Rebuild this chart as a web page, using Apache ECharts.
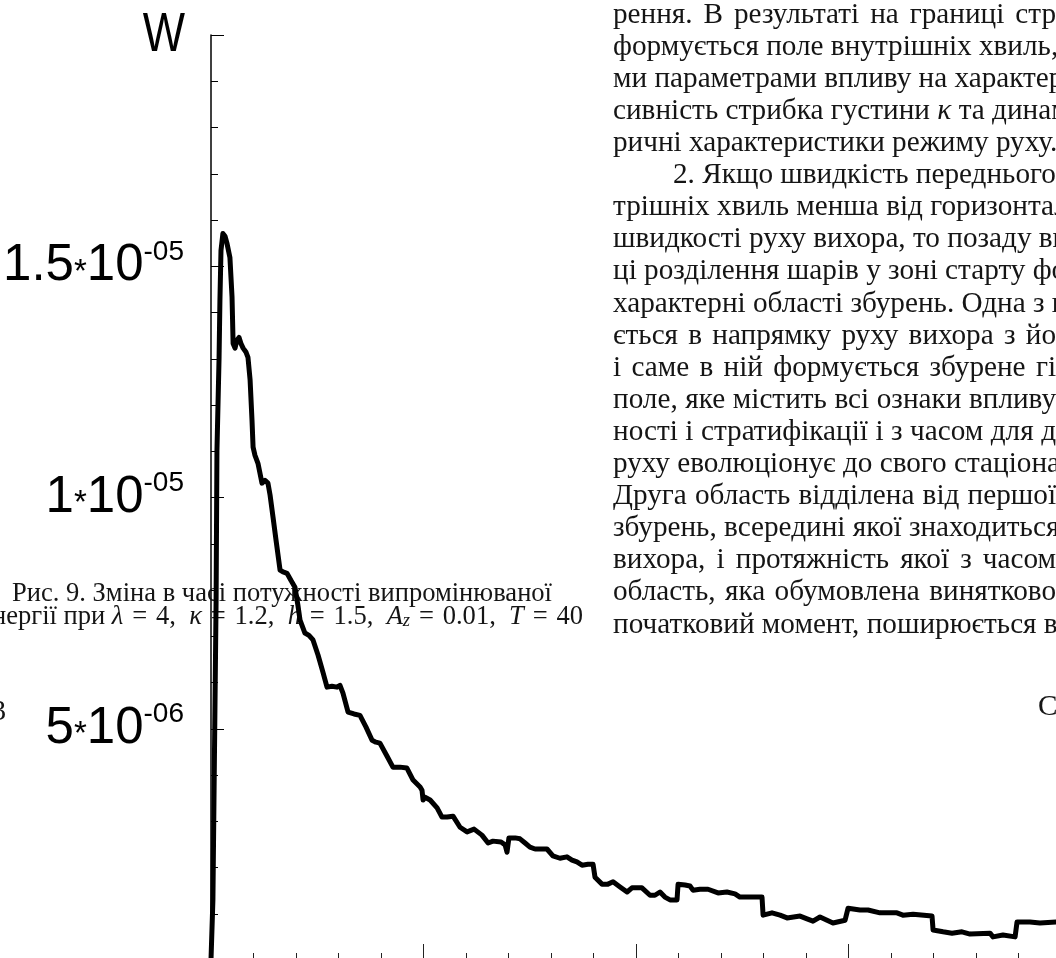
<!DOCTYPE html>
<html>
<head>
<meta charset="utf-8">
<script src="https://cdn.jsdelivr.net/npm/echarts@6/dist/echarts.min.js"></script>
<style>
  html, body { margin: 0; padding: 0; overflow: hidden; background: #fff; width: 1056px; height: 958px; }
  #chart { width: 1110px; height: 1000px; }
</style>
</head>
<body>
<div id="chart"></div>
<script>
// Radiated power W(t), in units of 1e-6, against time t
const timeValues = [
  0, 0.05, 0.09, 0.14, 0.19, 0.24, 0.28, 0.38, 0.42, 0.47,
  0.56, 0.66, 0.75, 0.89, 0.99, 1.04, 1.13, 1.22, 1.32, 1.41,
  1.51, 1.65, 1.74, 1.84, 1.93, 1.98, 2.07, 2.21, 2.40, 2.54,
  2.68, 2.78, 2.92, 3.06, 3.25, 3.39, 3.58, 3.76, 3.95, 4.09,
  4.19, 4.42, 4.61, 4.80, 5.04, 5.27, 5.46, 5.69, 5.93, 6.07,
  6.21, 6.45, 6.73, 7.01, 7.29, 7.58, 7.76, 7.95, 8.28, 8.56,
  8.89, 9.22, 9.51, 9.84, 9.93, 9.98, 10.07, 10.31, 10.64, 10.87,
  11.11, 11.39, 11.72, 12.05, 12.38, 12.75, 13.04, 13.27, 13.65, 13.84,
  13.93, 14.02, 14.31, 14.54, 14.78, 15.01, 15.25, 15.53, 15.81, 16.09,
  16.42, 16.75, 16.99, 17.22, 17.46, 17.74, 17.98, 18.07, 18.40, 18.68,
  18.92, 19.25, 19.58, 19.81, 20.28, 20.66, 20.89, 21.13, 21.36, 21.60,
  21.93, 21.98, 22.31, 22.54, 22.68, 23.01, 23.39, 23.86, 24.28, 24.66,
  24.89, 25.36, 25.93, 25.98, 26.40, 26.78, 27.11, 27.72, 28.05, 28.33,
  28.66, 28.99, 29.27, 29.84, 29.98, 30.54, 30.92, 31.48, 32.28, 32.56,
  33.04, 33.93, 33.98, 34.45, 34.87, 35.34, 35.72, 36.66, 36.80, 37.27,
  37.84, 37.93, 38.54, 39.01, 39.76, 40
];
const powerValues = [
  0, 0.04, 1.30, 3.46, 5.62, 7.78, 11.02, 13.03, 14.26, 15.34,
  15.71, 15.65, 15.50, 15.19, 14.33, 13.33, 13.23, 13.40, 13.46, 13.33,
  13.23, 13.14, 13.03, 12.54, 11.67, 11.09, 10.91, 10.74, 10.31, 10.37,
  10.31, 10.05, 9.57, 9.08, 8.43, 8.39, 8.36, 8.21, 8.06, 7.67,
  7.35, 7.07, 7.02, 6.92, 6.59, 6.22, 5.90, 5.92, 5.90, 5.94,
  5.77, 5.36, 5.32, 5.29, 5.04, 4.75, 4.71, 4.69, 4.41, 4.17,
  4.17, 4.15, 3.89, 3.74, 3.67, 3.46, 3.52, 3.46, 3.29, 3.09,
  3.09, 3.11, 2.87, 2.77, 2.83, 2.70, 2.53, 2.57, 2.55, 2.49,
  2.33, 2.64, 2.64, 2.62, 2.53, 2.44, 2.40, 2.40, 2.40, 2.25,
  2.20, 2.23, 2.16, 2.12, 2.05, 2.07, 2.07, 1.79, 1.64, 1.64,
  1.69, 1.58, 1.47, 1.56, 1.56, 1.40, 1.40, 1.47, 1.36, 1.30,
  1.30, 1.64, 1.62, 1.60, 1.51, 1.53, 1.53, 1.45, 1.47, 1.43,
  1.36, 1.36, 1.36, 0.97, 1.02, 0.97, 0.91, 0.95, 0.89, 0.84,
  0.93, 0.86, 0.80, 0.86, 1.12, 1.08, 1.08, 1.02, 1.02, 0.97,
  0.99, 0.95, 0.65, 0.61, 0.58, 0.61, 0.56, 0.58, 0.50, 0.54,
  0.50, 0.82, 0.82, 0.80, 0.82, 0.82
];

// Labelled ticks of the W axis (axis values are in units of 1e-6)
const yTickValues   = [5, 10, 15];
const yTickMantissa = ['5', '1', '1.5'];
const yTickExponent = ['-06', '-05', '-05'];

// Surrounding page text
const captionLine1 = 'Рис. 9. Зміна в часі потужності випромінюваної';
const captionLine2Parts = [
  ['n', 'енергії при '], ['i', 'λ'], ['n', '\u2004=\u20044,  '], ['i', 'κ'], ['n', '\u2004=\u20041.2,  '],
  ['i', 'h'], ['n', '\u2004=\u20041.5,  '], ['i', 'A'], ['sub', 'z'], ['n', '\u2004=\u20040.01,  '],
  ['i', 'T'], ['n', '\u2004=\u200440']
];
const bodyLines = [
  'рення. В результаті на границі стр',
  'формується поле внутрішніх хвиль,',
  'ми параметрами впливу на характер',
  'сивність стрибка густини κ та динам',
  'ричні характеристики режиму руху.',
  '2. Якщо швидкість переднього фро',
  'трішніх хвиль менша від горизонтал',
  'швидкості руху вихора, то позаду вих',
  'ці розділення шарів у зоні старту фо',
  'характерні області збурень. Одна з н',
  'ється в напрямку руху вихора з йо',
  'і саме в ній формується збурене гі',
  'поле, яке містить всі ознаки впливу',
  'ності і стратифікації і з часом для д',
  'руху еволюціонує до свого стаціонар',
  'Друга область відділена від першої',
  'збурень, всередині якої знаходиться',
  'вихора, і протяжність якої з часом',
  'область, яка обумовлена винятково',
  'початковий момент, поширюється в'
];

const SERIF = '"Liberation Serif", "DejaVu Serif", serif';
const SANS = '"Liberation Sans", Arial, sans-serif';
const INK = '#151515';

// font size that makes a string span a given width
const measureCtx = document.createElement('canvas').getContext('2d');
function fitSize(text, family, width) {
  measureCtx.font = '100px ' + family;
  return 100 * width / measureCtx.measureText(text).width;
}
const captionSize = fitSize(captionLine1, SERIF, 540);
const bodySize = fitSize('и параметрами впливу на характер', SERIF, 432);
const bodyFont = bodySize.toFixed(2) + 'px ' + SERIF;
const bodyItalic = 'italic ' + bodyFont;

const seriesData = timeValues.map((t, i) => [t, powerValues[i]]);

const graphics = [];
// axis name
graphics.push({
  type: 'text', x: 185, y: 36, scaleX: 0.8, z: 10,
  style: { text: 'W', font: '56px ' + SANS, fill: '#000', textAlign: 'right', textVerticalAlign: 'middle' }
});

// justified body column: words spread between the column edges,
// lines that are too long keep normal spacing and run past the edge
const bodyLeft = 613, bodyRight = 1056, bodyTop = 15, bodyStep = 32.1, parIndent = 60;
bodyLines.forEach((line, k) => {
  const left = bodyLeft + (line.startsWith('2. ') ? parIndent : 0);
  const y = bodyTop + k * bodyStep;
  const words = line.split(' ');
  const fonts = words.map(w => (w === 'κ' ? bodyItalic : bodyFont));
  const widths = words.map((w, i) => { measureCtx.font = fonts[i]; return measureCtx.measureText(w).width; });
  measureCtx.font = bodyFont;
  const natural = measureCtx.measureText(' ').width;
  const used = widths.reduce((a, b) => a + b, 0);
  const gap = Math.max(natural, (bodyRight - left - used) / (words.length - 1));
  let x = left;
  words.forEach((w, i) => {
    graphics.push({
      type: 'text', x: x, y: y, z: 1,
      style: { text: w, font: fonts[i], fill: INK, textAlign: 'left', textVerticalAlign: 'middle' }
    });
    x += widths[i] + gap;
  });
});

// figure caption
graphics.push({
  type: 'text', x: 12, y: 594, z: 1,
  style: { text: captionLine1, font: captionSize.toFixed(2) + 'px ' + SERIF, fill: INK, textAlign: 'left', textVerticalAlign: 'middle' }
});
graphics.push({
  type: 'text', x: 583, y: 617, z: 1,
  style: {
    text: captionLine2Parts.map(p => '{' + p[0] + '|' + p[1] + '}').join(''),
    rich: {
      n: { fontFamily: SERIF, fontSize: captionSize, fill: INK },
      i: { fontFamily: SERIF, fontStyle: 'italic', fontSize: captionSize, fill: INK },
      sub: { fontFamily: SERIF, fontStyle: 'italic', fontSize: captionSize * 0.7, fill: INK, verticalAlign: 'bottom' }
    },
    textAlign: 'right', textVerticalAlign: 'middle'
  }
});
// fragments of neighbouring text at the page edges
graphics.push({
  type: 'text', x: 6, y: 712, z: 1,
  style: { text: '3', font: bodyFont, fill: INK, textAlign: 'right', textVerticalAlign: 'middle' }
});
graphics.push({
  type: 'text', x: 1038, y: 707, z: 1,
  style: { text: 'С', font: bodyFont, fill: INK, textAlign: 'left', textVerticalAlign: 'middle' }
});

const chart = echarts.init(document.getElementById('chart'), null, { renderer: 'canvas' });
chart.setOption({
  animation: false,
  backgroundColor: '#fff',
  grid: { left: 211, top: 35, width: 850, height: 925, outerBoundsMode: 'none', containLabel: false },
  xAxis: {
    type: 'value', min: 0, max: 40, interval: 10,
    axisLine: { show: true, onZero: false, lineStyle: { color: '#000', width: 1 } },
    axisTick: { show: true, inside: true, length: 16, lineStyle: { color: '#222', width: 1 } },
    minorTick: { show: true, splitNumber: 5, length: 7, lineStyle: { color: '#222', width: 1 } },
    axisLabel: { show: false },
    splitLine: { show: false }
  },
  yAxis: {
    type: 'value', min: 0, max: 20, interval: 5,
    axisLine: { show: true, onZero: false, lineStyle: { color: '#000', width: 1.5 } },
    axisTick: { show: true, inside: true, length: 13, lineStyle: { color: '#000', width: 1 } },
    minorTick: { show: true, splitNumber: 5, length: 7, lineStyle: { color: '#000', width: 1 } },
    splitLine: { show: false },
    axisLabel: {
      margin: 27,
      formatter: function (v) {
        const i = yTickValues.findIndex(t => Math.abs(t - v) < 1e-9);
        if (i < 0) return '';
        return '{m|' + yTickMantissa[i] + '}{s|*}{m|10}{e|' + yTickExponent[i] + '}';
      },
      rich: {
        m: { fontFamily: SANS, fontSize: 51, color: '#000', lineHeight: 56 },
        s: { fontFamily: SANS, fontSize: 33, color: '#000', verticalAlign: 'bottom', padding: [0, 0, 5, 0] },
        e: { fontFamily: SANS, fontSize: 28, color: '#000', verticalAlign: 'top', lineHeight: 14 }
      }
    }
  },
  graphic: graphics,
  series: [{
    type: 'line',
    data: seriesData,
    showSymbol: false,
    symbol: 'none',
    clip: true,
    lineStyle: { color: '#000', width: 5, join: 'round' },
    z: 5
  }]
});
</script>
</body>
</html>
